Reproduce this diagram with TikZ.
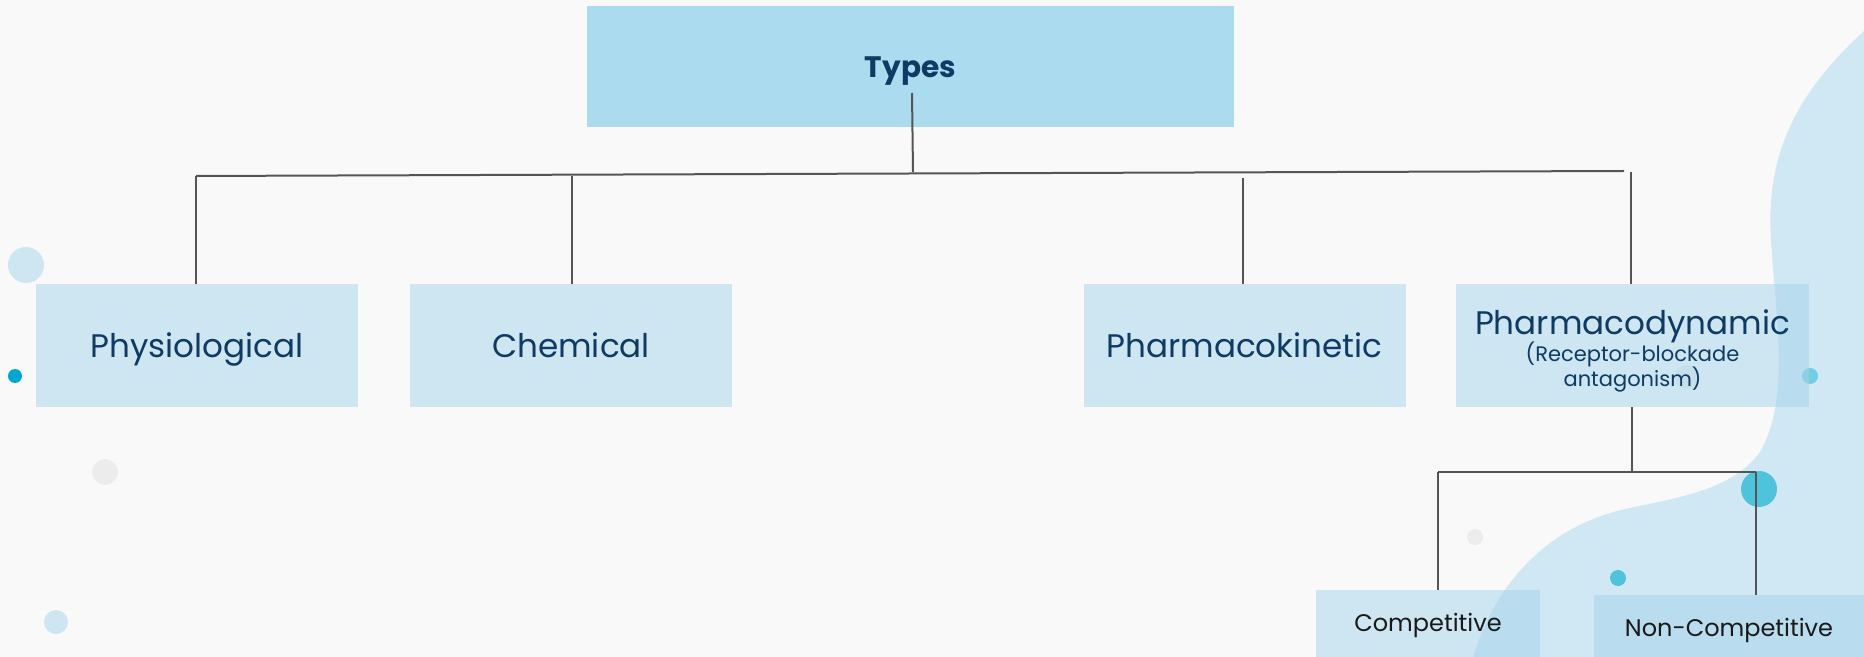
\documentclass[tikz,border=0pt]{standalone}
\usepackage{fontspec}
\setmainfont{Poppins}
\definecolor{bgc}{HTML}{F9F9F9}
\definecolor{blobc}{HTML}{D0E8F4}
\definecolor{boxc}{RGB}{163,212,235}
\definecolor{typesc}{HTML}{ABDBEF}
\definecolor{navy}{HTML}{0E3A63}
\definecolor{linec}{HTML}{555555}
\definecolor{dotblue}{HTML}{CDE6F2}
\definecolor{dotcyan}{HTML}{00A8D0}
\definecolor{dotcyanb}{HTML}{4FC3DC}
\definecolor{dotgrey}{HTML}{ECECEC}
\tikzset{
  box/.style={rectangle, fill=boxc, fill opacity=0.51, text opacity=1, inner sep=0pt, align=center, text=navy, font=\fontsize{16.3}{18}\selectfont},
  onebox/.style={box, text height=1.35em, text depth=0.1em},
  subbox/.style={box, text height=0.9em, text depth=0.1em, text=black!90, font=\fontsize{12}{14}\selectfont},
  conn/.style={draw=linec, line width=1pt},
}
\begin{document}
\begin{tikzpicture}[x=0.5pt,y=-0.5pt]
\useasboundingbox (0,0) rectangle (1864,657);
\fill[bgc] (0,0) rectangle (1864,657);
% blob
\fill[blobc] (1864,31) .. controls (1800,90) and (1765,150) .. (1771,240)
  .. controls (1776,320) and (1790,400) .. (1760,452)
  .. controls (1732,490) and (1680,497) .. (1630,508)
  .. controls (1560,522) and (1500,570) .. (1473,657) -- (1864,657) -- cycle;
% dots
\fill[dotblue] (26,265) circle[radius=9pt];
\fill[dotcyan] (15,376) circle[radius=3.5pt];
\fill[dotgrey] (105,472) circle[radius=6.5pt];
\fill[dotblue] (56,622) circle[radius=6pt];
\fill[dotcyanb!80] (1810,376) circle[radius=4pt];
\fill[dotcyanb] (1759,489) circle[radius=9pt];
\fill[dotgrey] (1475,537) circle[radius=4pt];
\fill[dotcyanb] (1618,578) circle[radius=4pt];
\fill[dotgrey] (1687,377) circle[radius=6pt];
% boxes
\node[rectangle, fill=typesc, minimum width=323.5pt, minimum height=60.5pt, inner sep=0pt, text=navy, text height=1.11em, text depth=-0.05em, font=\bfseries\fontsize{14.8}{16}\selectfont] (types) at (910.5,66.5) {Types};
\node[onebox, minimum width=161pt, minimum height=61.5pt] (phys) at (197,345.5) {Physiological};
\node[onebox, minimum width=161pt, minimum height=61.5pt] (chem) at (571,345.5) {Chemical};
\node[onebox, minimum width=161pt, minimum height=61.5pt] (pk) at (1244.5,345.5) {Pharmacokinetic};
\node[box, minimum width=176.5pt, minimum height=61.5pt] (pd) at (1632.5,345.5) {\rule{0pt}{17.9pt}Pharmacodynamic\\[-4.3pt]{\fontsize{10.5}{12}\selectfont (Receptor-blockade}\\[-5.4pt]{\fontsize{10.5}{12}\selectfont antagonism)}};
\node[subbox, minimum width=112pt, minimum height=34pt] (comp) at (1428,624) {Competitive};
\node[subbox, minimum width=135pt, minimum height=33pt] (ncomp) at (1729,628) {Non-Competitive};
% connectors
\coordinate (barL) at (196,176);
\coordinate (barR) at (1624,171);
\coordinate (stemT) at (912,93);
\coordinate (stemB) at (913,172);
\coordinate (pkT) at (1243,178);
\coordinate (pdT) at (1631,172);
\coordinate (chT) at (572,176);
\draw[conn] (stemT) -- (stemB);
\draw[conn] (barL) -- (barR);
\draw[conn] (barL) -- (barL |- phys.north);
\draw[conn] (chT) -- (chT |- chem.north);
\draw[conn] (pkT) -- (pkT |- pk.north);
\draw[conn] (pdT) -- (pdT |- pd.north);
\coordinate (sbar) at (1632,472);
\coordinate (sbarL) at (1438,472);
\coordinate (sbarR) at (1756,472);
\draw[conn] (pd.south -| sbar) -- (sbar);
\draw[conn] (sbarL) -- (sbarR);
\draw[conn] (sbarL) -- (sbarL |- comp.north);
\draw[conn] (sbarR) -- (sbarR |- ncomp.north);
\end{tikzpicture}
\end{document}
